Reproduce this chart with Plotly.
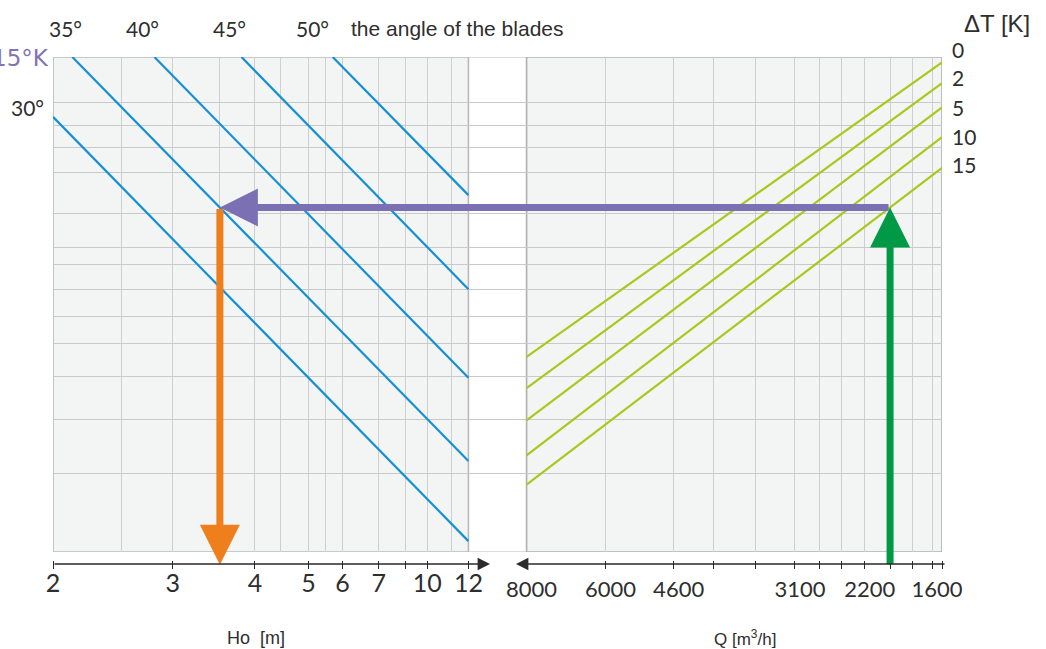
import numpy as np
import plotly.graph_objects as go

# ---------------- scales of the nomogram ----------------
# Ho [m] graduation (left panel) and where each mark sits along the scale (% of its length)
HO_GRAD = [2, 2.5, 3, 3.5, 4, 4.5, 5, 5.5, 6, 7, 8, 10, 11, 12]
HO_GRAD_AT = [0, 16.6, 28.8, 40.1, 48.6, 54.8, 61.5, 65.6, 69.7, 78.4, 84.9, 90.1, 95.9, 100]
HO_TICKS = [2, 3, 4, 5, 6, 7, 8, 10, 12]
HO_TICK_TEXT = ["2", "3", "4", "5", "6", "7", "", "10", "12"]

# Q [m3/h] graduation (right panel, decreasing to the right)
Q_GRAD = [8000, 6000, 4600, 4000, 3500, 3100, 2800, 2500, 2200, 2000, 1800, 1600, 1500]
Q_GRAD_AT = [0, 19.0, 35.4, 45.1, 55.2, 64.6, 70.6, 75.9, 81.4, 87.5, 93.0, 97.6, 100]
Q_TICK_TEXT = ["8000", "6000", "4600", "", "", "3100", "", "", "2200", "", "", "1600", ""]

# common vertical reading level (0 = bottom of the frame, 100 = top)
LEVEL_GRID = [15.8, 26.7, 35.4, 42.2, 47.5, 53.1, 58.0, 61.6, 68.3, 76.6, 81.8, 86.1, 90.9]

# ---------------- families of lines ----------------
BLADE_ANGLES = ["30°", "35°", "40°", "45°", "50°"]
BLADE_HO_START = [2.0, 2.14, 2.82, 3.81, 5.71]
BLADE_LEVEL_START = [87.9, 100, 100, 100, 100]
BLADE_HO_END = [12, 12, 12, 12, 12]
BLADE_LEVEL_END = [2.2, 18.4, 35.2, 53.1, 72.1]

DT_VALUES = [0, 2, 5, 10, 15]
DT_LEVEL_AT_8000 = [39.4, 33.1, 26.6, 19.5, 13.6]
DT_LEVEL_AT_1500 = [98.9, 94.7, 89.8, 83.8, 77.6]

# worked example: Q = 2000 m3/h, dT = 15 K, blades at 35 deg
Q_EXAMPLE = 2000
DT_EXAMPLE = 15
BLADE_EXAMPLE = "35°"

# ---------------- geometry ----------------
W, H = 1046, 649
ML, MR, MT, MB = 53, 104, 57, 89
Q_OFFSET = 114          # start of the right panel on the shared x scale
X_END = 214
FOOT = -2.6             # level of the scale line under the frame

BLUE = "#1590d5"
LIME = "#a9c81d"
PURPLE = "#7b70b3"
ORANGE = "#ef7f1d"
GREEN = "#009a46"
TXT = "#2e2e2e"
DIGITS = "Lato, 'Open Sans', sans-serif"
SANS = "'Liberation Sans', Arial, sans-serif"


def ho_x(v):
    return float(np.interp(v, HO_GRAD, HO_GRAD_AT))


def q_x(v):
    return Q_OFFSET + float(np.interp(v, Q_GRAD[::-1], Q_GRAD_AT[::-1]))


def paper_x(p):
    return (p - ML) / (W - ML - MR)


def paper_y(p):
    return (H - MB - p) / (H - MT - MB)


fig = go.Figure()

# blade-angle lines (left panel)
for name, h0, l0, h1, l1 in zip(BLADE_ANGLES, BLADE_HO_START, BLADE_LEVEL_START,
                                BLADE_HO_END, BLADE_LEVEL_END):
    fig.add_trace(go.Scatter(x=[ho_x(h0), ho_x(h1)], y=[l0, l1], mode="lines",
                             line=dict(color=BLUE, width=2.2), name=name,
                             xaxis="x2", yaxis="y", hoverinfo="skip", showlegend=False))

# temperature-difference lines (right panel)
for dt, a, b in zip(DT_VALUES, DT_LEVEL_AT_8000, DT_LEVEL_AT_1500):
    fig.add_trace(go.Scatter(x=[q_x(8000), q_x(1500)], y=[a, b], mode="lines",
                             line=dict(color=LIME, width=2.2), name=f"{dt} K",
                             xaxis="x3", yaxis="y", hoverinfo="skip", showlegend=False))

fig.add_trace(go.Scatter(x=[None], y=[None], xaxis="x", yaxis="y",
                         showlegend=False, hoverinfo="skip"))

# ---- worked example, derived from the lines above ----
k = DT_VALUES.index(DT_EXAMPLE)
xq = q_x(Q_EXAMPLE)
level_ex = float(np.interp(xq, [q_x(8000), q_x(1500)],
                           [DT_LEVEL_AT_8000[k], DT_LEVEL_AT_1500[k]]))
j = BLADE_ANGLES.index(BLADE_EXAMPLE)
bx0, bx1 = ho_x(BLADE_HO_START[j]), ho_x(BLADE_HO_END[j])
bl0, bl1 = BLADE_LEVEL_START[j], BLADE_LEVEL_END[j]
xh = bx0 + (bl0 - level_ex) / (bl0 - bl1) * (bx1 - bx0)


def big_arrow(x, y, ax, ay, color, scale):
    return dict(x=x, y=y, ax=ax, ay=ay, xref="x", yref="y", axref="x", ayref="y",
                text="", showarrow=True, arrowhead=2, arrowwidth=7,
                arrowsize=scale / 7, arrowcolor=color, standoff=0)


annotations = [
    big_arrow(xh, level_ex, xq, level_ex, PURPLE, 7.6),
    big_arrow(xh, FOOT, xh, level_ex, ORANGE, 8.0),
    big_arrow(xq, level_ex, xq, FOOT - 0.2, GREEN, 8.0),
]

# scale lines with their arrowheads under the frame
for tip, tail in [(490, 53), (516, 946)]:
    annotations.append(dict(x=paper_x(tip), y=paper_y(564), xref="paper", yref="paper",
                            ax=tail - tip, ay=0, text="", showarrow=True, arrowhead=2,
                            arrowwidth=1.3, arrowsize=1.9, arrowcolor="#2a2a2a"))


def label(text, x, y, size, family=DIGITS, color=TXT, xanchor="center"):
    annotations.append(dict(text=text, x=paper_x(x), y=paper_y(y), xref="paper",
                            yref="paper", showarrow=False, xanchor=xanchor,
                            yanchor="middle", font=dict(family=family, size=size, color=color)))


for t, x in zip(["35°", "40°", "45°", "50°"], [65, 142, 229, 312]):
    label(t, x, 29, 21)
label("the angle of the blades", 349, 29, 21, SANS, xanchor="left")
label("30°", 27, 108, 21)
label("15°K", 51, 58, 23, "'DejaVu Sans', sans-serif", "#8173b6", xanchor="right")
label("ΔT [K]", 1032, 23, 24, SANS, xanchor="right")
for t, y in zip(DT_VALUES, [49, 78, 107, 136, 164]):
    label(str(t), 950, y, 21, xanchor="left")
label("Ho\u00a0\u00a0[m]", 256, 638, 18, SANS)
label("Q [m<sup>3</sup>/h]", 745, 638, 17, SANS)

shapes = [
    dict(type="rect", xref="x", yref="y", x0=0, x1=X_END, y0=0, y1=100,
         fillcolor="white", line=dict(color="#d2d2d2", width=1.3), layer="below"),
    dict(type="rect", xref="x", yref="y", x0=0, x1=100, y0=0, y1=100,
         fillcolor="#f3f4f4", line=dict(color="#b9b9b9", width=1.6), layer="below"),
    dict(type="rect", xref="x", yref="y", x0=Q_OFFSET, x1=X_END, y0=0, y1=100,
         fillcolor="#f3f4f4", line=dict(color="#b0b0b0", width=1.6), layer="below"),
]

x_grid = [ho_x(v) for v in HO_GRAD[1:-1]] + [q_x(v) for v in Q_GRAD[1:-1]]

fig.update_layout(
    width=W, height=H, autosize=False,
    margin=dict(l=ML, r=MR, t=MT, b=MB, pad=0),
    paper_bgcolor="white", plot_bgcolor="rgba(0,0,0,0)",
    showlegend=False,
    xaxis=dict(domain=[0, 1], range=[0, X_END], anchor="y", tickmode="array",
               tickvals=x_grid, showgrid=True, gridcolor="#cfcfcf", gridwidth=1.3,
               ticks="", showticklabels=False, zeroline=False, showline=False,
               fixedrange=True),
    xaxis2=dict(overlaying="x", anchor="free", position=0, range=[0, X_END],
                tickmode="array", tickvals=[ho_x(v) for v in HO_TICKS],
                ticktext=HO_TICK_TEXT, ticks="outside", ticklen=8, tickwidth=1.2,
                tickcolor="#2a2a2a", showgrid=False, zeroline=False, showline=False,
                ticklabelstandoff=-7,
                tickfont=dict(family=DIGITS, size=25, color=TXT), fixedrange=True),
    xaxis3=dict(overlaying="x", anchor="free", position=0, range=[0, X_END],
                tickmode="array", tickvals=[q_x(v) for v in Q_GRAD],
                ticktext=Q_TICK_TEXT, ticks="outside", ticklen=8, tickwidth=1.2,
                tickcolor="#2a2a2a", showgrid=False, zeroline=False, showline=False,
                ticklabelshift=5, ticklabelstandoff=2,
                tickfont=dict(family=DIGITS, size=22, color=TXT), fixedrange=True),
    yaxis=dict(domain=[8 / (H - MT - MB), 1], range=[0, 100], tickmode="array",
               tickvals=LEVEL_GRID, showgrid=True, gridcolor="#c9c9c9", gridwidth=1.3,
               ticks="", showticklabels=False, zeroline=False, showline=False,
               fixedrange=True),
    shapes=shapes,
    annotations=annotations,
)

fig.write_html("out.html")
